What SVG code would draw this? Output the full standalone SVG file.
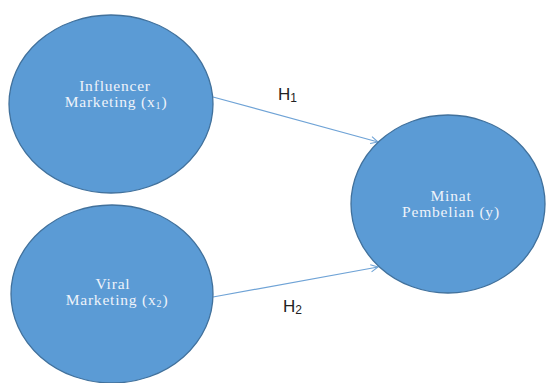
<svg xmlns="http://www.w3.org/2000/svg" width="547" height="383" viewBox="0 0 547 383">
  <style>
    .node { fill: #5B9BD5; stroke: #41719C; stroke-width: 1.3; }
    .lbl { font-family: "Liberation Serif", "Times New Roman", serif; font-size: 15.5px; letter-spacing: 0.8px; fill: #EEF3FA; text-anchor: middle; }
    .sub { font-size: 10px; }
    .edge { stroke: #6FA3D6; stroke-width: 1.2; fill: none; }
    .hyp { font-family: "Liberation Sans", Arial, sans-serif; font-size: 17px; fill: #222222; }
    .hsub { font-size: 12px; }
  </style>
  <defs>
    <marker id="chev" viewBox="0 0 10 10" refX="9" refY="5" markerWidth="9" markerHeight="9" markerUnits="userSpaceOnUse" orient="auto">
      <path d="M1,1 L9,5 L1,9" fill="none" stroke="#6FA3D6" stroke-width="1.2"/>
    </marker>
  </defs>
  <rect width="547" height="383" fill="#FFFFFF"/>

  <!-- connectors -->
  <g id="edges">
    <line class="edge" x1="213" y1="97" x2="378" y2="142" marker-end="url(#chev)"/>
    <line class="edge" x1="213" y1="297" x2="378" y2="267" marker-end="url(#chev)"/>
    <text class="hyp" x="278" y="100">H<tspan class="hsub" dy="2">1</tspan></text>
    <text class="hyp" x="283" y="312">H<tspan class="hsub" dy="2">2</tspan></text>
  </g>

  <g id="influencer">
    <ellipse class="node" cx="111" cy="104" rx="102" ry="89"/>
    <text class="lbl"><tspan x="115" y="91">Influencer</tspan><tspan x="116" y="107">Marketing (x<tspan class="sub" dy="2">1</tspan><tspan dy="-2">)</tspan></tspan></text>
  </g>

  <g id="viral">
    <ellipse class="node" cx="112" cy="294" rx="101" ry="89"/>
    <text class="lbl"><tspan x="113" y="289">Viral</tspan><tspan x="117" y="305">Marketing (x<tspan class="sub" dy="2">2</tspan><tspan dy="-2">)</tspan></tspan></text>
  </g>

  <g id="minat">
    <ellipse class="node" cx="448" cy="204" rx="97" ry="89"/>
    <text class="lbl"><tspan x="451" y="201">Minat</tspan><tspan x="451" y="217">Pembelian (y)</tspan></text>
  </g>
</svg>
